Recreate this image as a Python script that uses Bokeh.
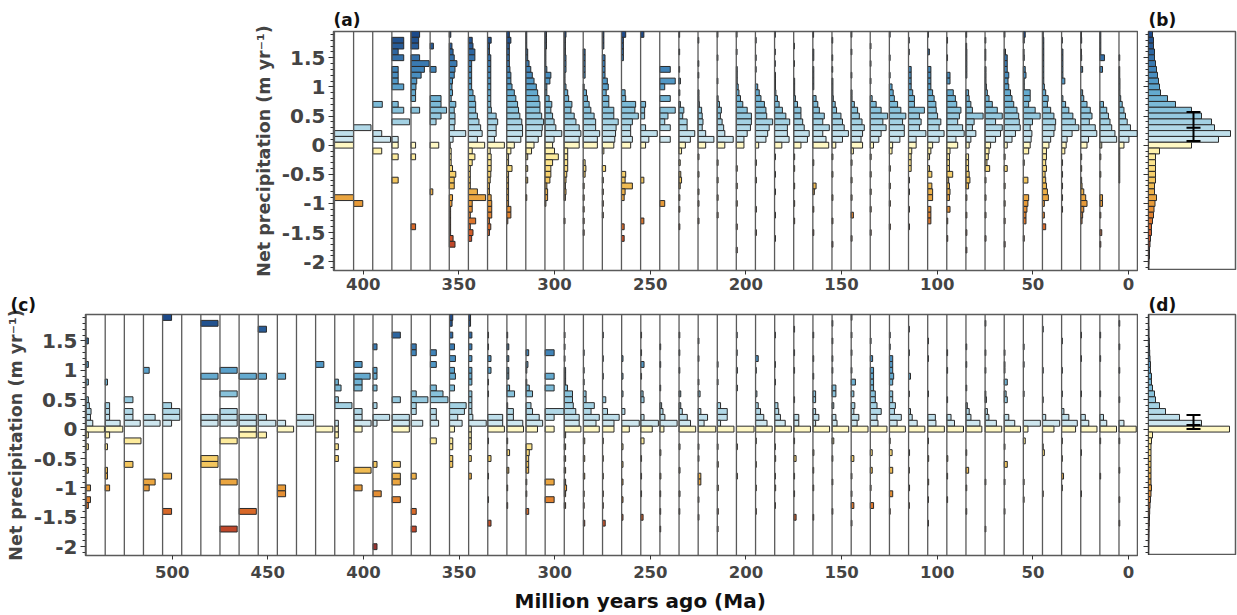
from bokeh.plotting import figure
from bokeh.models import Range1d, FixedTicker, Span, ColumnDataSource, CustomJSTickFormatter, Title
from bokeh.layouts import column, row
from bokeh.transform import linear_cmap
from bokeh.embed import file_html
from bokeh.resources import INLINE

# ---------------- data ----------------
# bin centres of net precipitation (m/yr), top to bottom
BINS = [1.9, 1.8, 1.7, 1.6, 1.5, 1.4, 1.3, 1.2, 1.1, 1.0, 0.9, 0.8, 0.7, 0.6, 0.5, 0.4, 0.3, 0.2, 0.1, 0.0,
        -0.1, -0.2, -0.3, -0.4, -0.5, -0.6, -0.7, -0.8, -0.9, -1.0, -1.1, -1.2, -1.3, -1.4, -1.5, -1.6,
        -1.7, -1.8, -1.9, -2.0, -2.1]

# panel (a): time slices (Ma) and histogram bar lengths (in Ma of slice width)
AGES_A = [415, 405, 395, 385, 375, 365, 355, 345, 335, 325, 315, 305, 295, 285, 275, 265, 255, 245, 235,
          225, 215, 205, 195, 185, 175, 165, 155, 145, 135, 125, 115, 105, 95, 85, 75, 65, 55, 45, 35, 25, 15, 5]
HIST_A = [
    {0.2: 10, 0.1: 10, 0.0: 10, -0.9: 10},
    {0.3: 9.1, -1.0: 4.8},
    {0.7: 5, 0.2: 4.7, 0.1: 9.3, -0.1: 4.7},
    {1.8: 6.2, 1.7: 6.2, 1.6: 3.3, 1.5: 6.2, 1.3: 3.3, 1.2: 3.3, 1.1: 3.3, 1.0: 6.2, 0.7: 3.3, 0.6: 6.2, 0.4: 9.3,
     0.1: 3.3, 0.0: 3.3, -0.2: 3.3, -0.6: 3.3},
    {1.9: 4.5, 1.8: 4, 1.7: 4, 1.5: 4.5, 1.4: 9.5, 1.3: 7, 1.2: 5.3, 1.1: 3, 1.0: 2.6, 0.9: 2.4, 0.8: 2.4, 0.6: 4.5,
     0.0: 2.4, -0.2: 2.4, -1.4: 2.4},
    {1.7: 1.7, 1.3: 3.1, 0.8: 5.7, 0.7: 5.7, 0.6: 8.6, 0.5: 5.7, 0.4: 3.1, 0.0: 4.5, -0.8: 1.4},
    {1.9: 0.8, 1.7: 1.4, 1.6: 2, 1.5: 2.6, 1.4: 4, 1.3: 3, 1.2: 2.6, 1.1: 1.7, 1.0: 1.4, 0.9: 1.7, 0.8: 1, 0.7: 3.4,
     0.6: 2.6, 0.5: 3, 0.4: 3, 0.3: 2.6, 0.2: 8.6, 0.1: 2, 0.0: 0.5, -0.1: 1, -0.2: 1, -0.3: 1, -0.4: 1.7, -0.5: 3.4,
     -0.6: 2.6, -0.7: 2.6, -0.9: 1.7, -1.0: 1.4, -1.1: 0.7, -1.2: 0.7, -1.3: 0.7, -1.4: 0.7, -1.5: 0.7, -1.6: 2, -1.7: 3},
    {1.8: 2, 1.7: 2.4, 1.6: 3.4, 1.5: 3.4, 1.4: 1.7, 1.3: 1.7, 1.2: 1.7, 1.1: 1.7, 1.0: 1.7, 0.9: 2.4, 0.8: 3.4,
     0.7: 3.8, 0.6: 3.8, 0.5: 4.7, 0.4: 5.5, 0.3: 6.4, 0.2: 7.2, 0.1: 4.7, 0.0: 8.5, -0.1: 2, -0.2: 3.4, -0.3: 2,
     -0.4: 1, -0.5: 1, -0.6: 1, -0.7: 1, -0.8: 4.7, -0.9: 9, -1.0: 2, -1.1: 2, -1.2: 1, -1.3: 3.8, -1.4: 1, -1.5: 2.4,
     -1.6: 1.7},
    {1.8: 1.9, 1.7: 1, 1.6: 1, 1.5: 1.7, 1.4: 1.7, 1.3: 1.7, 1.2: 1.7, 1.1: 1.7, 1.0: 1.7, 0.9: 1.7, 0.8: 1.7,
     0.7: 1.7, 0.6: 2, 0.5: 4.5, 0.4: 5.3, 0.3: 4.5, 0.2: 4.5, 0.1: 3.6, 0.0: 8.8, -0.1: 1.4, -0.2: 1.9, -0.3: 1.9,
     -0.4: 1.9, -0.5: 1.7, -0.6: 1.4, -0.7: 1, -0.8: 1, -0.9: 1.9, -1.0: 2.2, -1.1: 2.2, -1.2: 2.2, -1.3: 1, -1.4: 1.7,
     -1.5: 1},
    {1.9: 1.4, 1.8: 2.2, 1.7: 1.4, 1.6: 1.4, 1.5: 1.4, 1.4: 1.4, 1.3: 1.7, 1.2: 2.2, 1.1: 2.2, 1.0: 2.8, 0.9: 4,
     0.8: 4.8, 0.7: 5.7, 0.6: 6.2, 0.5: 6.9, 0.4: 7.9, 0.3: 8.3, 0.2: 8.3, 0.1: 7.4, 0.0: 4, -0.1: 2.2, -0.2: 1,
     -0.3: 1, -0.4: 2.8, -0.5: 1, -0.6: 1, -0.7: 1, -0.8: 1, -0.9: 1, -1.0: 1, -1.1: 2.2, -1.2: 2.2, -1.3: 0.6},
    {1.9: 0.5, 1.8: 0.5, 1.7: 0.5, 1.6: 1, 1.5: 1, 1.4: 1.7, 1.3: 2.6, 1.2: 3.4, 1.1: 4.3, 1.0: 5.5, 0.9: 6.2,
     0.8: 6.9, 0.7: 7.4, 0.6: 7.4, 0.5: 8.3, 0.4: 9.3, 0.3: 8.6, 0.2: 8.3, 0.1: 6.5, 0.0: 4.3, -0.1: 3, -0.2: 1,
     -0.4: 1, -0.6: 1, -0.9: 0.5},
    {1.9: 0.8, 1.8: 0.8, 1.7: 0.8, 1.6: 0.5, 1.5: 0.5, 1.4: 0.5, 1.3: 1, 1.2: 3.1, 1.1: 2.6, 1.0: 1, 0.9: 1,
     0.8: 2.2, 0.7: 3.6, 0.6: 3.1, 0.5: 4, 0.4: 4.8, 0.3: 5.7, 0.2: 8.8, 0.1: 4.8, 0.0: 4, -0.1: 5, -0.2: 7,
     -0.3: 4, -0.4: 3.1, -0.5: 3.1, -0.6: 2.6, -0.7: 1, -0.8: 1.4, -0.9: 1.4, -1.0: 0.5},
    {1.9: 1, 1.8: 0.7, 1.7: 0.7, 1.6: 0.7, 1.5: 1, 1.4: 1, 1.3: 1, 1.2: 0.5, 1.1: 0.5, 1.0: 1, 0.9: 1.9, 0.8: 2.4,
     0.7: 4.1, 0.6: 3.6, 0.5: 5.3, 0.4: 6.2, 0.3: 7.9, 0.2: 8.8, 0.1: 7.9, 0.0: 7.9, -0.1: 1.9, -0.2: 1.9,
     -0.3: 1.9, -0.4: 1.9, -0.5: 1.4, -0.6: 1, -0.7: 0.7, -0.8: 1, -0.9: 0.7, -1.3: 0.5},
    {1.6: 1, 1.5: 1, 1.4: 1, 1.3: 1, 1.2: 1, 1.0: 0.5, 0.9: 1.7, 0.8: 2.2, 0.7: 3.1, 0.6: 4, 0.5: 5.7, 0.4: 6.5,
     0.3: 6.5, 0.2: 8.6, 0.1: 7.4, 0.0: 7.4, -0.3: 1, -0.4: 1.4, -0.5: 1, -0.7: 0.5, -0.9: 0.5, -1.1: 0.5,
     -1.3: 0.5, -1.5: 0.5},
    {1.9: 0.8, 1.8: 0.8, 1.7: 0.8, 1.5: 1.4, 1.4: 1.4, 1.3: 1.4, 1.2: 1.4, 1.1: 2.6, 1.0: 3.1, 0.9: 2, 0.8: 3.4,
     0.7: 3.4, 0.6: 6, 0.5: 6, 0.4: 8.3, 0.3: 7.2, 0.2: 6.9, 0.1: 6.5, 0.0: 6, -0.1: 0.8, -0.4: 1.7, -0.6: 0.5,
     -0.8: 0.5, -1.0: 0.5, -1.2: 0.5},
    {1.9: 2.2, 1.8: 1, 1.7: 1, 1.6: 1, 1.5: 1, 0.9: 1.9, 0.8: 2.2, 0.7: 7.4, 0.6: 7, 0.5: 8.8, 0.4: 5.7, 0.3: 4.8,
     0.2: 4.8, 0.1: 5.7, 0.0: 4.8, -0.5: 2.2, -0.6: 1.9, -0.7: 5.7, -0.8: 1.9, -0.9: 1.4, -1.4: 1.4, -1.6: 1.4},
    {1.9: 1.7, 0.7: 2.6, 0.6: 2.1, 0.5: 2.1, 0.3: 2.6, 0.2: 8.7, 0.1: 4.3, 0.0: 2.6, -0.6: 1.7, -1.3: 1.7},
    {1.3: 5.5, 1.1: 8.1, 1.0: 2.6, 0.8: 5.5, 0.6: 8.1, 0.5: 4.3, 0.4: 2.6, 0.3: 5.5, 0.1: 5.5, -1.0: 2.6},
    {1.1: 0.8, 0.9: 0.5, 0.7: 0.8, 0.6: 2.6, 0.5: 2, 0.4: 4.3, 0.3: 4.3, 0.2: 8.3, 0.1: 6, 0.0: 3.4, -0.1: 1.4,
     -0.3: 0.7, -0.5: 1, -0.6: 1.4, -0.7: 0.7, -0.9: 0.5, -1.1: 0.5, -1.4: 0.5},
    {0.9: 0.5, 0.8: 0.5, 0.7: 0.7, 0.6: 1.9, 0.5: 2.2, 0.4: 2.6, 0.3: 2.2, 0.2: 4, 0.1: 8.3, 0.0: 4, -0.2: 0.5,
     -0.5: 0.5, -0.8: 0.5, -1.0: 0.5, -1.3: 0.5},
    {0.8: 0.5, 0.7: 1.2, 0.6: 2.2, 0.5: 1.7, 0.4: 2.6, 0.3: 3.4, 0.2: 4, 0.1: 8.4, 0.0: 4, -0.3: 0.5, -0.6: 0.5,
     -0.9: 0.5, -1.2: 0.5},
    {1.3: 0.5, 1.2: 0.5, 1.1: 0.5, 1.0: 1, 0.9: 1.4, 0.8: 2.2, 0.7: 3.4, 0.6: 5.7, 0.5: 7.9, 0.4: 7.9, 0.3: 7.4,
     0.2: 5.7, 0.1: 4, 0.0: 4, -0.4: 0.5, -0.7: 0.5, -1.0: 0.5, -1.4: 0.5, -1.8: 0.5},
    {1.0: 1.2, 0.9: 2, 0.8: 2.9, 0.7: 4.7, 0.6: 5.5, 0.5: 5.9, 0.4: 9, 0.3: 7.2, 0.2: 6.4, 0.1: 5.5, 0.0: 1.7,
     -0.3: 0.5, -0.6: 0.5, -1.1: 0.5, -1.5: 0.5},
    {1.2: 0.5, 1.1: 0.5, 1.0: 0.5, 0.9: 0.7, 0.8: 1.5, 0.7: 2.4, 0.6: 4.1, 0.5: 5.9, 0.4: 7.9, 0.3: 6.7, 0.2: 6.7,
     0.1: 7.6, 0.0: 3.8, -0.2: 0.5, -0.5: 0.5, -0.8: 0.5, -1.2: 0.5, -1.6: 0.5},
    {1.1: 0.5, 1.0: 0.5, 0.9: 0.5, 0.8: 0.9, 0.7: 2, 0.6: 3.8, 0.5: 3.8, 0.4: 4.7, 0.3: 5.5, 0.2: 8.1, 0.1: 7.2,
     0.0: 3.8, -0.2: 0.5, -0.4: 0.5, -0.7: 0.5, -1.0: 0.5, -1.3: 0.5},
    {1.6: 0.5, 1.5: 0.5, 1.3: 0.5, 1.2: 0.5, 1.1: 0.5, 1.0: 0.5, 0.8: 1.7, 0.7: 2.6, 0.6: 3.4, 0.5: 6, 0.4: 5.2,
     0.3: 8.6, 0.2: 5.2, 0.1: 6.9, 0.0: 8.3, -0.3: 0.5, -0.7: 1.7, -0.8: 0.8, -1.1: 0.5, -1.5: 0.5},
    {1.1: 0.5, 1.0: 0.5, 0.9: 0.5, 0.8: 0.7, 0.7: 1.7, 0.6: 2.4, 0.5: 4.7, 0.4: 5.5, 0.3: 6.4, 0.2: 8.6, 0.1: 5.5,
     0.0: 2, -0.2: 0.5, -0.5: 0.5, -0.9: 0.5, -1.3: 0.5, -1.7: 0.5},
    {0.9: 0.5, 0.8: 0.5, 0.7: 1.7, 0.6: 3.4, 0.5: 4.3, 0.4: 5.7, 0.3: 6.9, 0.2: 6, 0.1: 5.2, 0.0: 6, -0.1: 1.2,
     -0.3: 0.5, -0.6: 0.5, -0.9: 0.5, -1.2: 1.2, -1.6: 0.5},
    {0.8: 1, 0.7: 3.1, 0.6: 5.7, 0.5: 9.1, 0.4: 6.6, 0.3: 8.3, 0.2: 5.7, 0.1: 4.5, 0.0: 1.7, -0.2: 0.5, -0.5: 0.5,
     -0.8: 0.5, -1.1: 0.5, -1.5: 0.5},
    {1.0: 1.4, 0.9: 2, 0.8: 2.6, 0.7: 4.3, 0.6: 6, 0.5: 8.6, 0.4: 6.9, 0.3: 7.8, 0.2: 7.8, 0.1: 5.5, 0.0: 1.7,
     -0.1: 1.4, -0.4: 0.5, -0.7: 0.5, -1.0: 0.5, -1.4: 0.5},
    {1.3: 1.4, 1.2: 1.4, 1.1: 1.4, 1.0: 1.4, 0.9: 2.2, 0.8: 3.1, 0.7: 3.1, 0.6: 8.3, 0.5: 5.7, 0.4: 6.6, 0.3: 5.7,
     0.2: 9.1, 0.1: 4, 0.0: 4, -0.1: 1.7, -0.2: 1.4, -0.3: 1.4, -0.4: 1.4, -0.6: 0.5, -0.8: 0.5, -1.1: 0.5, -1.4: 0.5},
    {1.6: 0.9, 1.3: 1.7, 1.2: 1.7, 1.1: 1.7, 1.0: 1.7, 0.9: 2.6, 0.8: 3.4, 0.7: 4.3, 0.6: 4.5, 0.5: 5.2, 0.4: 6.9,
     0.3: 6, 0.2: 8.6, 0.1: 6, 0.0: 2.6, -0.1: 1.7, -0.2: 1, -0.4: 1, -0.5: 2.2, -0.7: 2.2, -0.8: 2.6, -0.9: 2.6,
     -1.1: 1.7, -1.2: 1.7, -1.3: 1.7},
    {1.2: 1.7, 1.1: 1.7, 0.9: 3.4, 0.8: 4.5, 0.7: 5.2, 0.6: 7.4, 0.5: 6.6, 0.4: 5.7, 0.3: 8.3, 0.2: 9.1, 0.1: 4.8,
     0.0: 5.7, -0.1: 1.7, -0.2: 1.4, -0.3: 1.4, -0.4: 1.4, -0.5: 3.1, -0.6: 1, -0.7: 1.4, -0.8: 1.7, -0.9: 1.4,
     -1.1: 1.7, -1.3: 0.5, -1.6: 0.5},
    {1.6: 0.5, 1.5: 0.5, 1.4: 0.5, 1.3: 0.5, 1.2: 0.5, 0.9: 1.4, 0.8: 1.7, 0.7: 2.6, 0.6: 3.4, 0.5: 9, 0.4: 4.3,
     0.3: 3.4, 0.2: 5.2, 0.1: 2.6, 0.0: 1.7, -0.2: 1.4, -0.3: 1.4, -0.4: 1.4, -0.5: 1.7, -0.6: 2.1, -0.7: 1.4,
     -0.9: 0.5, -1.2: 0.5, -1.5: 0.5, -1.8: 0.5},
    {1.3: 0.5, 1.2: 0.5, 1.1: 0.5, 1.0: 0.7, 0.9: 1.2, 0.8: 2.1, 0.7: 3.8, 0.6: 6.4, 0.5: 9, 0.4: 5.5, 0.3: 9,
     0.2: 8.1, 0.1: 5.5, 0.0: 2.9, -0.1: 2.1, -0.2: 1.7, -0.3: 1, -0.4: 2.4, -0.6: 0.5, -0.9: 0.5, -1.2: 0.5,
     -1.6: 0.5},
    {1.6: 0.7, 1.5: 1.6, 1.4: 1.6, 1.3: 1.6, 1.2: 2.4, 1.1: 2, 1.0: 2.4, 0.9: 3.3, 0.8: 4.1, 0.7: 5, 0.6: 6.7,
     0.5: 7.6, 0.4: 7.9, 0.3: 8.4, 0.2: 5.9, 0.1: 4.1, 0.0: 1.6, -0.2: 0.5, -0.4: 1.6, -0.7: 0.5, -1.0: 0.5,
     -1.3: 0.5, -1.7: 0.5},
    {1.9: 1, 1.8: 0.5, 1.5: 0.5, 1.3: 1, 1.2: 1.4, 1.1: 0.5, 1.0: 0.5, 0.9: 3.6, 0.8: 3.6, 0.7: 2.8, 0.6: 6.2,
     0.5: 8.8, 0.4: 4.8, 0.3: 3.6, 0.2: 4.5, 0.1: 4.1, 0.0: 3.6, -0.1: 2.8, -0.3: 0.5, -0.6: 2.4, -0.9: 2.8,
     -1.0: 2.4, -1.1: 1.9, -1.2: 1.4, -1.3: 1.4, -1.6: 0.5},
    {1.8: 0.7, 1.7: 0.7, 1.6: 0.7, 1.5: 0.7, 1.4: 0.7, 1.3: 0.7, 1.2: 0.7, 1.1: 0.7, 1.0: 1, 0.9: 1.7, 0.8: 3,
     0.7: 2.6, 0.6: 4.3, 0.5: 6, 0.4: 6.9, 0.3: 6.6, 0.2: 6, 0.1: 4.3, 0.0: 3.4, -0.1: 2.1, -0.2: 2.1, -0.3: 1.7,
     -0.4: 2.1, -0.5: 1.4, -0.6: 1.7, -0.7: 2.1, -0.8: 2.6, -0.9: 3.1, -1.0: 1, -1.2: 1, -1.4: 1.7},
    {1.6: 0.7, 1.5: 0.7, 1.4: 0.7, 1.3: 0.7, 1.2: 0.7, 1.1: 1.7, 0.8: 0.7, 0.7: 2.1, 0.6: 3.8, 0.5: 5.9, 0.4: 7.2,
     0.3: 9, 0.2: 5.5, 0.1: 2.9, 0.0: 2.4, -0.1: 1.7, -0.3: 0.5, -0.5: 0.5, -0.7: 0.5, -0.9: 0.5, -1.1: 0.5},
    {1.8: 0.5, 1.5: 0.5, 1.3: 1, 0.9: 1, 0.8: 1.6, 0.7: 3.3, 0.6: 5, 0.5: 5.9, 0.4: 4.5, 0.3: 7.6, 0.2: 8.4,
     0.1: 4.1, 0.0: 3.3, -0.2: 0.5, -0.4: 0.5, -0.6: 0.5, -0.7: 0.7, -0.8: 1.6, -0.9: 2.6, -1.0: 3.3, -1.1: 1.6,
     -1.2: 1, -1.3: 0.7},
    {1.9: 0.5, 1.8: 0.5, 1.7: 0.5, 1.6: 0.5, 1.5: 2.4, 1.3: 1.4, 0.7: 1.9, 0.6: 3.6, 0.5: 4.5, 0.4: 5.3, 0.3: 6.2,
     0.2: 7.9, 0.1: 8.8, 0.0: 1, -0.2: 0.5, -0.5: 0.5, -0.9: 1.4, -1.0: 1.4, -1.2: 0.5, -1.5: 1, -1.7: 0.5},
    {1.1: 0.5, 1.0: 0.5, 0.9: 0.5, 0.8: 0.9, 0.7: 1.7, 0.6: 2.6, 0.5: 3.4, 0.4: 4.3, 0.3: 6, 0.2: 9.5, 0.1: 5.2,
     0.0: 2.6, -0.1: 0.4, -0.2: 0.4, -0.3: 0.4, -0.4: 0.4, -0.5: 0.4, -0.6: 0.4},
]
# bins holding only a trace amount (drawn as thin dashes)
TRACE_A = [[], [], [], [], [], [], [], [], [], [], [], [], [], [], [], [], [], [], [1.9, 1.6, 1.3],
           [1.8, 1.4, 1.2], [1.9, 1.5, 1.1], [1.9, 1.6], [1.8, 1.5, 1.3], [1.9, 1.6, 1.4], [1.7, 1.4], [1.9],
           [1.8, 1.5, 1.3], [1.9, 1.6, 1.2], [1.7, 1.4, 1.1], [1.9, 1.5, 1.2], [1.8, 1.6], [1.9], [1.8, 1.5],
           [1.9, 1.7], [1.8, 1.6, 1.5], [1.9], [1.6], [1.9], [1.8], [1.9, 1.6], [], [1.5, 1.3, 1.2]]

# panel (c)
AGES_C = [545, 535, 525, 515, 505, 495, 485, 475, 465, 455, 445, 435, 425, 415, 405, 395, 385, 375, 365, 355,
          345, 335, 325, 315, 305, 295, 285, 275, 265, 255, 245, 235, 225, 215, 205, 195, 185, 175, 165, 155,
          145, 135, 125, 115, 105, 95, 85, 75, 65, 55, 45, 35, 25, 15, 5]
HIST_C = [
    {1.5: 1.2, 1.1: 1.2, 0.8: 1.2, 0.5: 1.2, 0.4: 1.7, 0.3: 2.6, 0.2: 2.3, 0.1: 3.5, 0.0: 9.6, -0.1: 1.2,
     -0.3: 1.2, -0.7: 1.2, -1.0: 2.3, -1.2: 2.3, -1.3: 1.2},
    {0.8: 1.2, 0.4: 2.3, 0.3: 2.3, 0.2: 2.3, 0.1: 7.8, 0.0: 9.2, -0.1: 2.3, -0.3: 1.2, -0.7: 1.2, -0.8: 1.2,
     -1.0: 2.3},
    {0.5: 4.5, 0.3: 4.5, 0.2: 4.5, 0.1: 8.3, -0.2: 8.7, -0.6: 4.5},
    {1.0: 3, 0.2: 6.1, 0.1: 8.7, -0.9: 6.1, -1.0: 3},
    {1.9: 4.7, 0.4: 4.7, 0.3: 9, 0.2: 9, 0.1: 4.7, -0.8: 4.7, -1.4: 4.7},
    {},
    {1.8: 9, 0.9: 9, 0.2: 9, 0.1: 9, -0.5: 9, -0.6: 9},
    {1.0: 9, 0.6: 9, 0.3: 9, 0.2: 9, 0.1: 9, -0.2: 9, -0.9: 9, -1.7: 9},
    {0.9: 9, 0.2: 9, 0.1: 9, 0.0: 9, -0.1: 9, -1.4: 9},
    {1.7: 4.3, 0.9: 4.3, 0.2: 4.3, 0.1: 9.2, -0.1: 4.3},
    {0.9: 4.3, 0.1: 4.3, 0.0: 8.5, -1.0: 4.3, -1.1: 4.3},
    {0.2: 9, 0.1: 9},
    {1.1: 4.3, 0.0: 9},
    {0.8: 1.9, 0.7: 3.3, 0.5: 1.9, 0.4: 9, 0.1: 1.9, 0.0: 1.9, -0.1: 1.9, -0.3: 1.9, -0.5: 1.9},
    {1.1: 4.3, 0.9: 8.5, 0.8: 4.3, 0.7: 4.3, 0.3: 4.3, 0.2: 4.3, 0.1: 9, 0.0: 4.3, -0.7: 9, -1.0: 4.3},
    {1.4: 2.1, 1.0: 2.1, 0.9: 2.1, 0.7: 2.1, 0.4: 2.1, 0.2: 8.7, 0.1: 2.1, -0.6: 2.1, -1.1: 4.3, -2.0: 2.1},
    {1.6: 4.3, 0.5: 4.3, 0.2: 9, 0.1: 9, 0.0: 9, -0.6: 4.3, -0.8: 4.3, -0.9: 4.3, -1.2: 4.3},
    {1.4: 2.6, 1.3: 2.6, 0.6: 2.6, 0.5: 8.7, 0.4: 2.6, 0.3: 2.6, 0.1: 6, -0.8: 2.6, -1.4: 2.6, -1.7: 2.6},
    {1.3: 3.1, 1.1: 3.1, 0.7: 3.1, 0.6: 6.6, 0.5: 9.2, 0.3: 3.1, 0.2: 3.1, 0.1: 4.3, -0.2: 3.1},
    {1.9: 1.7, 1.8: 1.4, 1.6: 1.7, 1.4: 2.6, 1.2: 3.1, 1.0: 2.6, 0.9: 3.1, 0.7: 2.6, 0.4: 8.7, 0.3: 7.8, 0.2: 4.3,
     0.1: 6.6, 0.0: 2.6, -0.2: 1.7, -0.3: 1.7, -0.5: 1.7, -0.6: 1.7},
    {1.9: 1, 1.8: 1, 1.6: 1.7, 1.4: 1.7, 1.2: 1.7, 1.0: 1.7, 0.9: 1.7, 0.8: 1.7, 0.6: 1.7, 0.5: 1.7, 0.4: 1.7,
     0.3: 1.7, 0.2: 2.2, 0.1: 9.2, 0.0: 1.4, -0.1: 1.4, -0.2: 1.4, -0.3: 1.4, -0.5: 1.4, -0.8: 1.4},
    {1.2: 1.7, 1.0: 1.7, 0.2: 7.8, 0.1: 7.8, 0.0: 8.7, -0.5: 1.7, -1.6: 1.7},
    {1.4: 1, 1.2: 1, 1.0: 1, 0.9: 1, 0.7: 1.4, 0.6: 4, 0.3: 3.4, 0.2: 3.4, 0.1: 8.3, 0.0: 8.7, -0.4: 1.4, -0.7: 1},
    {1.3: 1.4, 1.1: 1, 0.7: 1.7, 0.6: 3.4, 0.4: 2.6, 0.3: 3.4, 0.2: 6.9, 0.1: 8.7, 0.0: 6, -0.3: 3.1, -0.4: 1.7,
     -0.5: 1.4, -0.6: 1.4, -0.7: 1.4, -1.4: 1.4},
    {1.3: 4.7, 0.9: 4.7, 0.7: 4.7, 0.3: 9.9, 0.2: 4.7, 0.0: 4.7, -0.9: 4.7, -1.2: 4.7},
    {1.0: 0.7, 0.9: 0.7, 0.8: 0.7, 0.7: 1.7, 0.6: 4.3, 0.5: 4.3, 0.4: 4.7, 0.3: 6, 0.2: 7.8, 0.1: 7.8, 0.0: 8.7,
     -0.1: 0.7, -0.3: 0.7, -0.5: 0.7, -0.7: 0.7, -0.9: 0.7, -1.0: 1.2, -1.1: 0.7, -1.3: 0.7},
    {0.6: 1.4, 0.5: 1.4, 0.4: 5.7, 0.3: 4, 0.2: 8.3, 0.1: 6.6, 0.0: 8.3, -0.2: 0.7, -0.5: 0.7, -0.8: 0.7, -1.6: 0.7},
    {0.5: 1.7, 0.3: 2.6, 0.2: 8.7, 0.1: 6, 0.0: 6, -1.6: 1.4},
    {1.2: 0.7, 0.9: 0.7, 0.6: 0.7, 0.3: 1.7, 0.1: 9.2, 0.0: 4, -0.3: 0.7, -0.6: 0.7, -0.9: 0.7, -1.2: 0.7,
     -1.5: 0.7},
    {1.1: 1.7, 0.6: 1.2, 0.5: 1.7, 0.2: 1.7, 0.1: 9.2, 0.0: 6, -0.2: 1.7, -1.5: 1.2},
    {0.4: 0.9, 0.3: 1.6, 0.2: 2.6, 0.1: 9, 0.0: 2.1, -0.4: 0.5, -0.8: 0.5},
    {0.6: 0.9, 0.4: 0.9, 0.3: 1.7, 0.2: 4.3, 0.1: 6, 0.0: 8.7, -0.3: 0.5, -0.7: 0.5, -1.1: 0.5},
    {0.6: 1, 0.3: 1.4, 0.2: 4.9, 0.1: 3.1, 0.0: 9.2, -0.8: 1.4, -0.9: 1.4},
    {0.4: 1.7, 0.3: 5.2, 0.2: 5.2, 0.1: 1.7, 0.0: 8.7, -0.6: 0.5, -1.0: 0.5, -1.4: 0.5},
    {1.0: 0.5, 0.7: 0.5, 0.0: 9.2, -0.3: 0.5, -0.8: 0.5},
    {1.2: 1.4, 0.6: 0.7, 0.4: 1.4, 0.3: 2.6, 0.2: 4.3, 0.1: 6, 0.0: 8.7},
    {0.4: 1.7, 0.3: 2.1, 0.2: 3, 0.1: 5.5, 0.0: 8.7, -0.5: 0.5, -1.0: 0.5},
    {0.2: 2.6, 0.1: 2.6, 0.0: 8.7, -0.5: 1.2, -1.5: 1.2},
    {0.6: 1.4, 0.5: 1.4, 0.3: 1.4, 0.2: 3.1, 0.1: 1.4, 0.0: 8.7, -0.4: 0.5},
    {0.7: 2, 0.6: 2, 0.4: 0.9, 0.2: 2, 0.1: 2.6, 0.0: 8.7, -0.2: 0.9},
    {0.8: 2.2, 0.6: 1.4, 0.4: 1.9, 0.3: 1.4, 0.2: 4, 0.1: 3.1, 0.0: 8.8, -0.5: 1.4, -1.3: 1.4},
    {1.2: 1.2, 1.0: 1.7, 0.9: 1.7, 0.8: 1.7, 0.7: 1.7, 0.6: 2.6, 0.5: 2.6, 0.4: 3.5, 0.3: 5.7, 0.2: 3.5, 0.1: 4,
     0.0: 8.7, -0.4: 1, -0.7: 1, -1.3: 1.7},
    {1.2: 1.7, 1.1: 1.7, 1.0: 1.7, 0.9: 2.2, 0.8: 1.7, 0.6: 1.7, 0.5: 1.7, 0.4: 3.1, 0.3: 2.6, 0.2: 6.2, 0.1: 4,
     0.0: 8.3, -0.4: 1.4, -0.7: 1.7, -1.1: 1.7},
    {0.9: 1, 0.3: 1, 0.2: 1.9, 0.1: 4.5, 0.0: 8.5, -0.4: 0.5, -1.0: 0.5},
    {0.2: 4, 0.1: 4.3, 0.0: 8.7, -0.5: 0.5, -0.9: 0.5},
    {0.2: 2.2, 0.1: 4, 0.0: 8.7, -0.5: 0.5},
    {0.4: 0.7, 0.3: 1.7, 0.2: 2.6, 0.1: 7.3, 0.0: 8.3, -0.7: 1.4},
    {0.5: 0.7, 0.3: 1.2, 0.2: 2, 0.1: 5.9, 0.0: 8.7},
    {0.8: 1.6, 0.6: 1, 0.5: 1.6, 0.2: 2.4, 0.1: 5.5, 0.0: 8.5, -0.6: 1.6},
    {0.1: 8.9, 0.0: 2.4, -0.2: 1},
    {0.2: 1.7, 0.1: 9, 0.0: 6, -0.4: 1},
    {0.3: 1.2, 0.2: 3.8, 0.1: 8.2, 0.0: 7.3, -0.8: 1},
    {0.2: 2.4, 0.1: 4.2, 0.0: 8.5},
    {0.2: 1.9, 0.1: 3.6, 0.0: 8.7},
    {0.1: 2.6, 0.0: 9},
]
TRACE_C = [[], [], [], [], [], [], [], [], [], [], [], [], [], [], [], [], [], [], [], [], [],
           [1.6, 1.4, 0.8, 0.6, -0.2, -0.8, -1.2], [1.6, 0.4, -0.2, -1.0, -1.3], [1.0, 0.8, -0.9, -1.1], [],
           [1.6, 1.4, 1.2], [1.3, 1.0, 0.8, -1.1, -1.3], [1.6, 1.2, 0.9, -0.2, -0.5, -0.8, -1.1, -1.3], [],
           [1.6, 1.3, 0.9, -0.5, -0.8, -1.1], [1.4, 1.1, 0.7, -1.1, -1.4, -1.7], [1.6, 1.3, 1.0, -1.4],
           [1.5, 1.2, 0.8, -0.3, -0.5, -1.2, -1.5], [1.1, 0.8, -0.3, -1.7], [1.6, 1.3],
           [1.0, -0.2, -0.6, -1.0, -1.4], [1.6, 1.1, 0.8, -0.3, -0.8, -1.3], [1.7, 1.3, 1.0, 0.5, -0.2, -0.8, -1.1],
           [1.6, 1.2, 0.9, -0.7, -1.0, -1.5], [1.8, 1.5, 1.2, 1.0, -0.5, -0.9, -1.4],
           [1.9, 1.6, 1.3, 1.0, -0.8, -1.1, -1.6], [1.5, -1.0], [1.6, 1.4, -0.2, -1.4], [1.7, 1.3, 0.6, -0.7, -1.3],
           [1.5, 1.2, 0.6, -0.2, -1.2, -1.6], [1.3, 1.0, 0.5, -0.8, -1.2], [1.4, 1.1, 0.7, -0.4, -1.0, -1.4],
           [1.8, 1.3, 1.0, 0.6, -0.9, -1.7], [1.3, 1.1, 1.0, -0.3, -0.9, -1.4], [1.4, 1.1, 0.6, -0.9, -1.2],
           [1.7, 1.0, 0.5, -0.3, -1.1], [1.5, 1.0, 0.6, -0.2, -0.5, -1.0], [1.6, 1.2, 0.6, -0.4, -1.1],
           [1.6, 1.2, 0.6, -0.2, -0.8], [1.8, 1.4, 1.0, 0.5, -0.2, -0.7, -1.2, -1.6]]
TRACE_LEN = 0.4

# panels (b) and (d): whole-period distributions (relative bar length), aligned with BINS
TOTAL_B = [4, 5, 5, 6, 6, 7, 8, 9, 10, 11, 12, 19, 27, 43, 53, 63, 66, 82, 70, 43,
           11, 7, 7, 7, 7, 7, 6, 6, 8, 6.5, 5.5, 5, 4, 3, 3, 2, 1.5, 1, 1, 0.5, 0.3]
TOTAL_D = [0.3, 0.3, 0.5, 0.5, 0.8, 1, 1.2, 1.5, 2, 2, 3, 3, 4, 6, 7, 11, 17, 31, 53, 81,
           4, 3, 2.5, 2.5, 2.5, 2.5, 2.5, 2.5, 2.5, 3, 2.5, 2, 1.5, 1.2, 1, 0.8, 0.6, 0.5, 0.4, 0.3, 0.2]
# error bar: low, median, high (m/yr)
ERR_B = [0.07, 0.30, 0.57]
ERR_D = [0.00, 0.07, 0.24]

# ---------------- style ----------------
# 41 colours, one per bin, from -2.1 (low) to 1.9 (high)
PALETTE = ["#882f31", "#973430", "#a6392e", "#b43f2c", "#c0472a", "#ca5128", "#d25c27", "#d86828",
           "#dd752b", "#e1822f", "#e48e33", "#e79a38", "#eaa540", "#edb048", "#f0bb52", "#f3c65e",
           "#f6d06c", "#f9da7c", "#fbe38c", "#fdeb9c", "#fff2ad", "#fff8c4",
           "#cde6ef", "#bfdfeb", "#b1d8e7", "#a3d1e3", "#95c9df", "#88c2db", "#7bbad7", "#6fb2d3",
           "#64aacf", "#5aa1cb", "#5198c6", "#498ec0", "#4184b8", "#3a7ab1", "#3470a9", "#2e66a0",
           "#285c98", "#22528f", "#1d4a8a"]
FONT = "DejaVu Sans"
YLO, YHI = -2.15, 1.95
MAJOR_Y = [-2, -1.5, -1, -0.5, 0, 0.5, 1, 1.5]
MINOR_Y = [round(-2.1 + 0.1 * i, 1) for i in range(41)]
FRAME_COL = "#5a5a5a"
CMAP = linear_cmap("y", PALETTE, low=YLO, high=YHI)


def build(ages, hists, traces):
    ys, lefts, rights = [], [], []
    for age, h, tr in zip(ages, hists, traces):
        vals = dict(h)
        for b in tr:
            vals.setdefault(b, TRACE_LEN)
        for b, L in vals.items():
            ys.append(b)
            lefts.append(age)
            rights.append(age - L)
    return ColumnDataSource(dict(y=ys, left=lefts, right=rights))


def style_y(ax, labels=True):
    ax.ticker = FixedTicker(ticks=MAJOR_Y, minor_ticks=MINOR_Y)
    ax.formatter = CustomJSTickFormatter(code="return tick.toString();" if labels else "return '';")
    ax.axis_line_color = None
    ax.major_tick_line_color = "#333333"
    ax.minor_tick_line_color = "#333333"
    ax.major_tick_in = 0
    ax.minor_tick_in = 0
    ax.major_tick_out = 5
    ax.minor_tick_out = 3
    ax.major_label_text_font = FONT
    ax.major_label_text_font_style = "bold"
    ax.major_label_text_font_size = "20px"
    ax.major_label_standoff = 3
    ax.axis_label_text_font = FONT
    ax.axis_label_text_font_style = "bold"
    ax.axis_label_text_font_size = "17.5px"
    ax.axis_label_standoff = 5


def style_x(ax, ticks, standoff):
    ax.ticker = FixedTicker(ticks=ticks)
    ax.axis_line_color = None
    ax.major_tick_line_color = "#333333"
    ax.minor_tick_line_color = None
    ax.major_tick_in = 0
    ax.major_tick_out = 4
    ax.major_label_text_font = FONT
    ax.major_label_text_font_style = "bold"
    ax.major_label_text_font_size = "16.5px"
    ax.major_label_standoff = standoff


def set_title_style(t, size="17px"):
    t.text_font = FONT
    t.text_font_style = "bold"
    t.text_font_size = size
    t.text_color = "#111111"


def base_fig(xr, fw, fh, bl, bt, br, label, label_off, label_gap):
    p = figure(x_range=xr, y_range=Range1d(YLO, YHI), frame_width=fw, frame_height=fh,
               min_border_left=bl, min_border_top=bt, min_border_right=br, min_border_bottom=0,
               output_backend="svg", toolbar_location=None, tools="", title=label)
    p.grid.visible = False
    p.outline_line_color = FRAME_COL
    p.outline_line_width = 1.5
    p.background_fill_color = "white"
    p.border_fill_color = "white"
    t = p.title
    t.align = "left"
    set_title_style(t)
    t.offset = label_off
    try:
        t.standoff = label_gap
    except Exception:
        pass
    return p


def slice_panel(ages, hists, traces, xr, fw, fh, bl, bt, xticks, xstand, label, label_off, label_gap):
    p = base_fig(xr, fw, fh, bl, bt, 0, label, label_off, label_gap)
    src = build(ages, hists, traces)
    p.hbar(y="y", left="left", right="right", height=0.1, source=src, fill_color=CMAP,
           line_color="#2a2a2a", line_width=1)
    for a in ages:
        p.add_layout(Span(location=a, dimension="height", line_color=FRAME_COL, line_width=1.3))
    style_y(p.yaxis[0])
    p.yaxis.axis_label = "Net precipitation (m yr\u207b\u00b9)"
    style_x(p.xaxis[0], xticks, xstand)
    return p


def total_panel(totals, err, fh, bt, label, label_gap):
    p = base_fig(Range1d(0, 87), 87, fh, 10, bt, 2, label, 0, label_gap)
    src = ColumnDataSource(dict(y=BINS, right=totals))
    p.hbar(y="y", left=0, right="right", height=0.1, source=src, fill_color=CMAP,
           line_color="#2a2a2a", line_width=1)
    ex = 45
    cap = 7
    p.segment(x0=[ex], y0=[err[0]], x1=[ex], y1=[err[2]], line_color="black", line_width=2)
    p.segment(x0=[ex - cap] * 3, y0=err, x1=[ex + cap] * 3, y1=err, line_color="black", line_width=2)
    style_y(p.yaxis[0], labels=False)
    p.xaxis.visible = False
    return p


pa = slice_panel(AGES_A, HIST_A, TRACE_A, Range1d(415.5, -5.2), 805, 239, 333, 31,
                 [0, 50, 100, 150, 200, 250, 300, 350, 400], 3, "(a)", 0, 4)
pb = total_panel(TOTAL_B, ERR_B, 239, 31, "(b)", 4)
pc = slice_panel(AGES_C, HIST_C, TRACE_C, Range1d(545.3, -5.2), 1053, 241, 85, 0,
                 [0, 50, 100, 150, 200, 250, 300, 350, 400, 450, 500], 6, "(c)", -75, 0)
xt = Title(text="Million years ago (Ma)", align="left", offset=429)
set_title_style(xt, "20px")
try:
    xt.standoff = 13
except Exception:
    pass
pc.add_layout(xt, "below")
pd = total_panel(TOTAL_D, ERR_D, 241, 0, "(d)", 0)

layout = column(row(pa, pb), row(pc, pd))
open("out.html", "w").write(file_html(layout, INLINE))
